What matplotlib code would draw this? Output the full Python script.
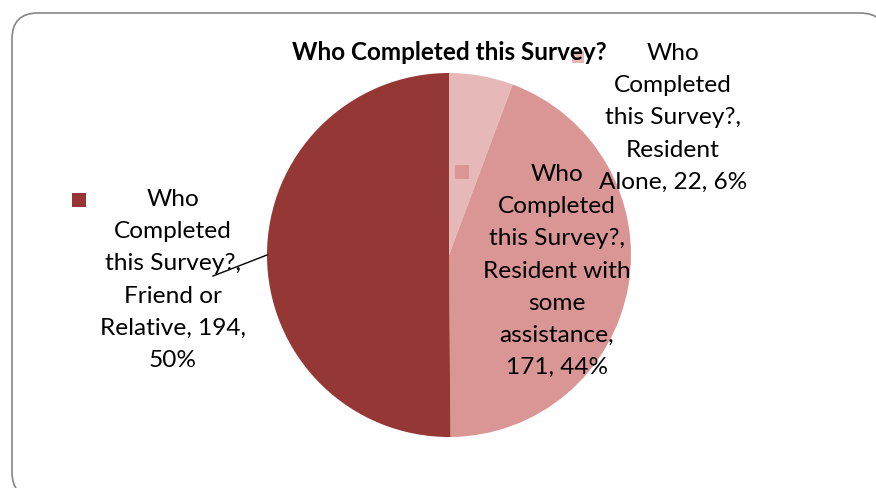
import matplotlib.pyplot as plt
from matplotlib.patches import FancyBboxPatch, Rectangle

# survey responses
categories = ["Resident\nAlone", "Resident with\nsome\nassistance", "Friend or\nRelative"]
counts = [22, 171, 194]
percents = ["6%", "44%", "50%"]
series_name = "Who\nCompleted\nthis Survey?"
colors = ["#E6B9B8", "#D99694", "#953735"]

W, H = 876, 488
fig = plt.figure(figsize=(W / 100, H / 100), dpi=100)
ax = fig.add_axes([0, 0, 1, 1])

plt.rcParams["font.family"] = ["Lato", "DejaVu Sans"]

# rounded frame around the chart
frame = FancyBboxPatch((12, -10), 874, 485, boxstyle="round,pad=0,rounding_size=26",
                       fc="white", ec="#868686", lw=1.2, zorder=0)
ax.add_patch(frame)

cx, cy, r = 449, H - 255, 182
ax.pie(counts, colors=colors, startangle=90, counterclock=False,
       center=(cx, cy), radius=r, frame=True,
       wedgeprops=dict(linewidth=0))
ax.set_xlim(0, W)
ax.set_ylim(0, H)
ax.set_aspect("equal")
ax.axis("off")

# data labels with legend keys: (text centre x, centre y, key x, key y, key size)
label_pos = [(673, H - 118, 578, H - 57, 12),
             (557, H - 271, 462, H - 172, 14),
             (173, H - 280, 79, H - 200, 14)]
label_text = [
    f"{series_name},\n{categories[0]}, {counts[0]}, {percents[0]}",
    f"{series_name},\n{categories[1]},\n{counts[1]}, {percents[1]}",
    f"{series_name},\n{categories[2]}, {counts[2]},\n{percents[2]}",
]
for i, (tx, ty, kx, ky, ks) in enumerate(label_pos):
    ax.add_patch(Rectangle((kx - ks / 2, ky - ks / 2), ks, ks, fc=colors[i], ec="none", zorder=3))
    ax.text(tx, ty, label_text[i], ha="center", va="center", fontsize=17.6,
            linespacing=1.66, color="black", zorder=4)

# leader line for the left label
ax.plot([213, 267], [H - 276, H - 255], color="black", lw=1, zorder=5)

ax.text(449, H - 52, "Who Completed this Survey?", ha="center", va="center",
        fontsize=17.5, fontweight="bold", zorder=6)

fig.savefig("out.png", dpi=100)
